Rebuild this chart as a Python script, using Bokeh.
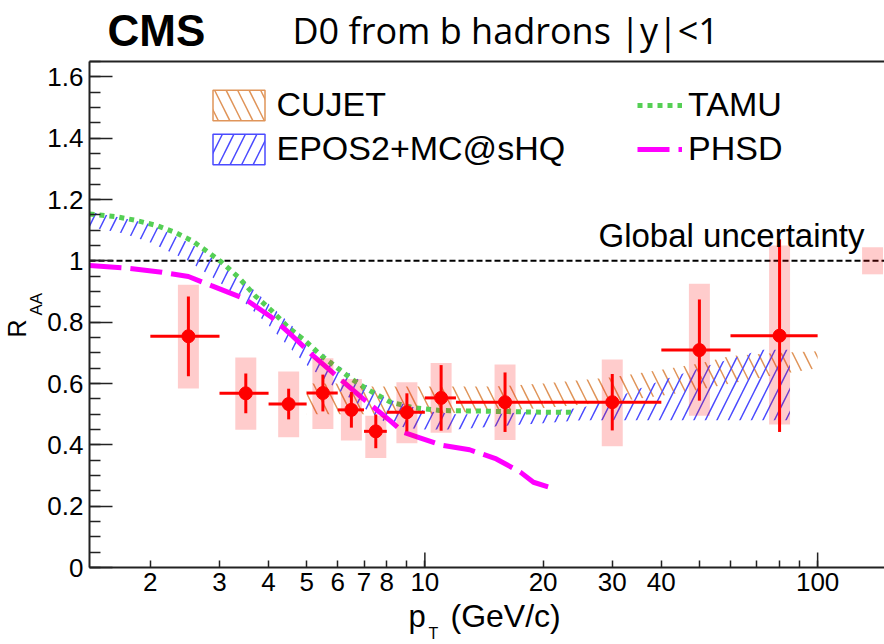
import numpy as np
from bokeh.plotting import figure
from bokeh.models import (FixedTicker, CustomJSTickFormatter, Label, Legend, LegendItem, LogAxis)
from bokeh.embed import file_html
from bokeh.resources import INLINE

# ---------------- data ----------------
# CMS D0 from b hadrons, |y|<1
pt = [2.5, 3.5, 4.5, 5.5, 6.5, 7.5, 9.0, 11.0, 16.0, 30.0, 50.0, 80.0]
bin_lo = [2, 3, 4, 5, 6, 7, 8, 10, 12, 20, 40, 60]
bin_hi = [3, 4, 5, 6, 7, 8, 10, 12, 20, 40, 60, 100]
raa = [0.754, 0.568, 0.533, 0.569, 0.514, 0.444, 0.506, 0.553, 0.539, 0.539, 0.709, 0.756]
stat = [0.13, 0.065, 0.05, 0.06, 0.058, 0.055, 0.062, 0.107, 0.097, 0.092, 0.165, 0.314]
syst_up = [0.168, 0.117, 0.106, 0.113, 0.101, 0.051, 0.098, 0.114, 0.123, 0.139, 0.216, 0.294]
syst_dn = [0.170, 0.119, 0.108, 0.117, 0.100, 0.087, 0.101, 0.114, 0.123, 0.144, 0.214, 0.290]

global_unc = 0.044
global_unc_pt = 138.0
unity = 1.0

# TAMU
tamu_pt = [1.4, 1.64, 1.85, 2.08, 2.31, 2.55, 2.81, 3.04, 3.35, 3.69, 4.07, 4.49, 4.95,
           5.46, 6.0, 6.5, 7.1, 8.15, 9.34, 10.9, 13.8, 17.0, 21.2, 24.0]
tamu_raa = [1.153, 1.144, 1.131, 1.115, 1.093, 1.066, 1.028, 0.995, 0.947, 0.887, 0.838, 0.783, 0.740,
            0.690, 0.650, 0.615, 0.583, 0.540, 0.521, 0.512, 0.510, 0.508, 0.506, 0.506]

# PHSD
phsd_pt = [1.4, 1.72, 2.14, 2.5, 2.86, 3.48, 4.07, 4.6, 5.2, 6.08, 6.97, 8.15, 8.81, 9.71,
           11.1, 13.0, 15.2, 17.5, 18.9, 21.6]
phsd_raa = [0.985, 0.977, 0.963, 0.949, 0.919, 0.876, 0.816, 0.755, 0.690, 0.615, 0.550, 0.479, 0.441, 0.423,
            0.398, 0.384, 0.354, 0.311, 0.278, 0.255]

# EPOS2+MC@sHQ band
epos_pt = [1.4, 1.7, 2.0, 2.5, 3.0, 3.5, 4.0, 4.5, 5.0, 6.0, 7.0, 8.0, 9.0, 10.0, 12.0, 15.0,
           20.0, 25.0, 30.0, 40.0, 50.0, 60.0, 72.0, 85.0]
epos_lo = [1.11, 1.09, 1.06, 1.00, 0.93, 0.86, 0.79, 0.72, 0.66, 0.58, 0.52, 0.47, 0.455, 0.45, 0.45, 0.46,
           0.47, 0.48, 0.48, 0.48, 0.48, 0.48, 0.48, 0.48]
epos_hi = [1.16, 1.14, 1.12, 1.06, 1.00, 0.93, 0.86, 0.80, 0.74, 0.66, 0.60, 0.55, 0.53, 0.51, 0.50, 0.50,
           0.51, 0.52, 0.55, 0.61, 0.65, 0.68, 0.71, 0.71]

# CUJET band
cujet_pt = [5.0, 6.0, 7.0, 8.0, 10.0, 15.0, 20.0, 30.0, 40.0, 50.0, 60.0, 80.0, 100.0]
cujet_lo = [0.50, 0.50, 0.50, 0.50, 0.50, 0.51, 0.52, 0.54, 0.56, 0.58, 0.60, 0.63, 0.65]
cujet_hi = [0.60, 0.60, 0.59, 0.59, 0.59, 0.59, 0.60, 0.62, 0.645, 0.665, 0.69, 0.70, 0.705]

# axes: data limits and ticks
x_lim = (1.4, 148.0)
y_lim = (0.0, 1.65)
x_ticks = [2, 3, 4, 5, 6, 7, 8, 10, 20, 30, 40, 100]
x_minor = [9, 50, 60, 70, 80, 90]
x_decades = [10, 100]
y_ticks = [0, 0.2, 0.4, 0.6, 0.8, 1.0, 1.2, 1.4, 1.6]
y_minor = [round(0.05 * i, 2) for i in range(34)]

# ---------------- layout (pixels) ----------------
W, H = 884, 644
FRAME_L, FRAME_T, FRAME_B = 89, 61, 567   # plot area inside the canvas
px_per_dec = (W - FRAME_L) / (np.log10(x_lim[1]) - np.log10(x_lim[0]))
px_per_y = (FRAME_B - FRAME_T) / (y_lim[1] - y_lim[0])
x_range = (10 ** (np.log10(x_lim[0]) - FRAME_L / px_per_dec), x_lim[1])
y_range = (y_lim[0] - (H - FRAME_B) / px_per_y, y_lim[1] + FRAME_T / px_per_y)

# ---------------- style ----------------
RED = "#ff0000"
GREEN = "#55cf55"
MAGENTA = "#ff00ff"
ORANGE = "#e0955a"
BLUE = "#4b4bff"
AXC = "#222222"
FONT = "Liberation Sans"
HS = 23

p = figure(width=W, height=H, x_axis_type="log", x_range=x_range, y_range=y_range,
           output_backend="svg", toolbar_location=None,
           min_border_left=0, min_border_right=0, min_border_top=0, min_border_bottom=0)
p.outline_line_color = None
p.xgrid.visible = False
p.ygrid.visible = False
p.background_fill_color = "white"
p.border_fill_color = "white"

# axes, pinned to the data area
p.xaxis.fixed_location = y_lim[0]
p.xaxis.bounds = x_lim
p.yaxis.fixed_location = x_lim[0]
p.yaxis.bounds = y_lim
p.xaxis.ticker = FixedTicker(ticks=x_ticks, minor_ticks=x_minor)
p.xaxis.formatter = CustomJSTickFormatter(code="return String(tick)")
p.yaxis.ticker = FixedTicker(ticks=y_ticks, minor_ticks=y_minor)
p.yaxis.formatter = CustomJSTickFormatter(code="return String(Math.round(tick*10)/10)")
for ax in (p.xaxis[0], p.yaxis[0]):
    ax.axis_line_color = AXC
    ax.axis_line_width = 2
    ax.major_tick_line_color = AXC
    ax.minor_tick_line_color = AXC
    ax.major_tick_line_width = 1.5
    ax.minor_tick_line_width = 1.5
    ax.major_tick_out = 0
    ax.minor_tick_out = 0
    ax.major_label_text_font = FONT
    ax.major_label_text_font_size = "26px"
    ax.major_label_text_color = "black"
p.xaxis.major_tick_in = 7
p.xaxis.minor_tick_in = 7
p.xaxis.major_label_standoff = 5
p.yaxis.major_tick_in = 23
p.yaxis.minor_tick_in = 11
p.yaxis.major_label_standoff = 6

# top frame line
top = LogAxis(fixed_location=y_lim[1], bounds=x_lim, ticker=FixedTicker(ticks=[]),
              axis_line_color=AXC, axis_line_width=2, major_label_text_font_size="0px")
p.add_layout(top, "above")

# longer decade ticks on the x axis
p.ray(x=x_decades, y=[y_lim[0]] * len(x_decades), length=15, length_units="screen",
      angle=np.pi / 2, line_color=AXC, line_width=1.5)

# unity line
p.line(x=list(x_lim), y=[unity, unity], line_color="black", line_width=2, line_dash="6 3")

# model bands
p.varea(x=cujet_pt, y1=cujet_lo, y2=cujet_hi, fill_alpha=0,
        hatch_pattern="\\", hatch_color=ORANGE, hatch_weight=1.5, hatch_scale=HS)
p.varea(x=epos_pt, y1=epos_lo, y2=epos_hi, fill_alpha=0,
        hatch_pattern="/", hatch_color=BLUE, hatch_weight=1.5, hatch_scale=HS)

# model curves
tamu_r = p.line(tamu_pt, tamu_raa, line_color=GREEN, line_width=5, line_dash="5 5")
phsd_r = p.line(phsd_pt, phsd_raa, line_color=MAGENTA, line_width=5, line_dash="32 9")

# data
raa_a = np.array(raa)
top_s = raa_a + np.array(syst_up)
bot_s = raa_a - np.array(syst_dn)
p.rect(x=pt, y=(top_s + bot_s) / 2, width=21, width_units="screen", height=top_s - bot_s,
       fill_color=RED, fill_alpha=0.2, line_color=None)
p.segment(x0=pt, x1=pt, y0=raa_a - np.array(stat), y1=raa_a + np.array(stat), line_color=RED, line_width=3)
p.segment(x0=bin_lo, x1=bin_hi, y0=raa, y1=raa, line_color=RED, line_width=3)
p.scatter(pt, raa, size=13, marker="circle", fill_color=RED, line_color=RED)

# global uncertainty box
p.rect(x=[global_unc_pt], y=[unity], width=21, width_units="screen", height=2 * global_unc,
       fill_color=RED, fill_alpha=0.2, line_color=None)

# legend swatches for the bands (a glyph with no drawable point carries the style)
nan = [float("nan")]
cujet_leg = p.quad(left=nan, right=nan, top=nan, bottom=nan, fill_alpha=0, line_color=ORANGE, line_width=1.5,
                   hatch_pattern="\\", hatch_color=ORANGE, hatch_weight=1.5, hatch_scale=HS)
epos_leg = p.quad(left=nan, right=nan, top=nan, bottom=nan, fill_alpha=0, line_color=BLUE, line_width=1.5,
                  hatch_pattern="/", hatch_color=BLUE, hatch_weight=1.5, hatch_scale=HS)

def make_legend(items, loc, gw):
    return Legend(items=items, location=loc, glyph_width=gw, glyph_height=38, label_height=38,
                  spacing=5, padding=0, margin=0, label_standoff=6,
                  label_text_font=FONT, label_text_font_size="34px", label_text_color="black",
                  border_line_color=None, background_fill_alpha=0)

p.add_layout(make_legend([LegendItem(label="CUJET", renderers=[cujet_leg]),
                          LegendItem(label="EPOS2+MC@sHQ", renderers=[epos_leg])], (205.5, H - 168), 65))
p.add_layout(make_legend([LegendItem(label="TAMU", renderers=[tamu_r]),
                          LegendItem(label="PHSD", renderers=[phsd_r])], (637, H - 168), 45))

# texts: (x, baseline) in canvas pixels; Bokeh centres the em box on the anchor,
# so the anchor is moved from the baseline by half of (ascent - descent)
HALF_EM = {"Liberation Sans": 0.347, "Open Sans": 0.388}

def lab(x, base, text, size, font=FONT, style="normal", rotated=False, align="left"):
    k = HALF_EM[font] * size
    if rotated:
        sx, sy = x - k, H - base
    else:
        sx, sy = x, H - (base - k)
    p.add_layout(Label(x=sx, y=sy, x_units="screen", y_units="screen", text=text,
                       text_font=font, text_font_size=f"{size}px", text_font_style=style,
                       text_align=align, text_baseline="middle",
                       angle=np.pi / 2 if rotated else 0, text_color="black"))

lab(107, 45, "CMS", 44, style="bold")
lab(292, 44, "D0 from b hadrons |y|<1", 36, font="Open Sans")
lab(864, 246, "Global uncertainty", 33, align="right")
lab(408, 627, "p", 31)
lab(428, 639, "T", 16)
lab(450, 627, "(GeV/c)", 32)
lab(25, 337, "R", 25, rotated=True)
lab(42, 315, "AA", 17, rotated=True)

open("out.html", "w").write(file_html(p, INLINE))
